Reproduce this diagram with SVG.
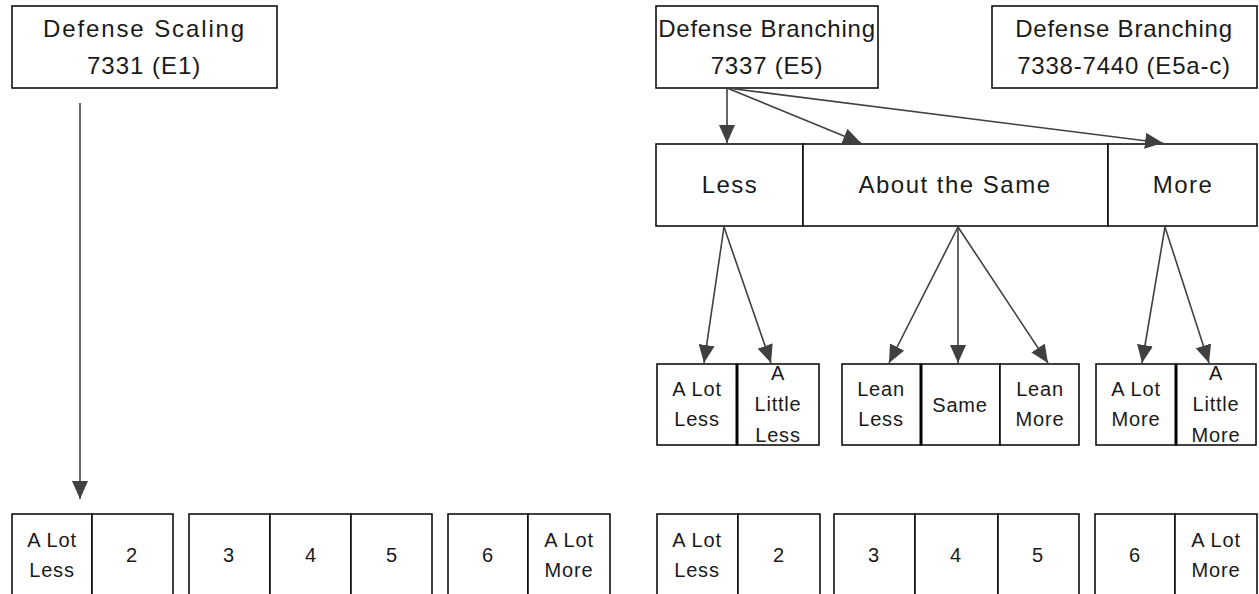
<svg xmlns="http://www.w3.org/2000/svg" width="1259" height="594" viewBox="0 0 1259 594">
<style>
.box{fill:#fff;stroke:#000;stroke-width:1.5}
.thick{stroke:#000;stroke-width:3}
.t{font-family:"Liberation Sans",Arial,sans-serif;fill:#1a1a1a;text-anchor:middle}
.big{font-size:24px;letter-spacing:0.8px}
.mid{font-size:24px;letter-spacing:1.5px}
.sm{font-size:20px;letter-spacing:0.8px}
.c{stroke:#404040;stroke-width:1.6;fill:none;marker-end:url(#ah)}
</style>
<defs>
<marker id="ah" markerUnits="userSpaceOnUse" markerWidth="18" markerHeight="16" refX="18" refY="8" orient="auto">
<path d="M0,0 L18,8 L0,16 z" fill="#404040"/>
</marker>
</defs>
<rect width="1259" height="594" fill="#fff"/>

<g id="e1">
<rect class="box" x="12" y="6" width="265" height="82"/>
<text class="t big" x="144" y="37" textLength="202" lengthAdjust="spacing">Defense Scaling</text>
<text class="t big" x="144" y="74" textLength="114" lengthAdjust="spacing">7331 (E1)</text>
</g>
<g id="e5">
<rect class="box" x="656" y="6" width="222" height="82"/>
<text class="t big" x="767" y="37">Defense Branching</text>
<text class="t big" x="767" y="74">7337 (E5)</text>
</g>
<g id="e5ac">
<rect class="box" x="992" y="6" width="265" height="82"/>
<text class="t big" x="1124" y="37">Defense Branching</text>
<text class="t big" x="1124" y="74">7338-7440 (E5a-c)</text>
</g>

<g id="less">
<rect class="box" x="656" y="144" width="147" height="82"/>
<text class="t mid" x="730" y="193">Less</text>
</g>
<g id="same">
<rect class="box" x="803" y="144" width="305" height="82"/>
<text class="t mid" x="955" y="193">About the Same</text>
</g>
<g id="more">
<rect class="box" x="1108" y="144" width="149" height="82"/>
<text class="t mid" x="1183" y="193">More</text>
</g>

<g id="alotless">
<rect class="box" x="657" y="364" width="80" height="81"/>
<text class="t sm" x="697" y="396">A Lot</text>
<text class="t sm" x="697" y="426">Less</text>
</g>
<g id="alittleless">
<rect class="box" x="737" y="364" width="82" height="81"/>
<text class="t sm" x="778" y="380">A</text>
<text class="t sm" x="778" y="411">Little</text>
<text class="t sm" x="778" y="442">Less</text>
</g>
<g id="leanless">
<rect class="box" x="842" y="364" width="79" height="81"/>
<text class="t sm" x="881" y="396">Lean</text>
<text class="t sm" x="881" y="426">Less</text>
</g>
<g id="samebox">
<rect class="box" x="921" y="364" width="79" height="81"/>
<text class="t sm" x="960" y="412">Same</text>
</g>
<g id="leanmore">
<rect class="box" x="1000" y="364" width="79" height="81"/>
<text class="t sm" x="1040" y="396">Lean</text>
<text class="t sm" x="1040" y="426">More</text>
</g>
<g id="alotmore">
<rect class="box" x="1096" y="364" width="80" height="81"/>
<text class="t sm" x="1136" y="396">A Lot</text>
<text class="t sm" x="1136" y="426">More</text>
</g>
<g id="alittlemore">
<rect class="box" x="1176" y="364" width="80" height="81"/>
<text class="t sm" x="1216" y="380">A</text>
<text class="t sm" x="1216" y="411">Little</text>
<text class="t sm" x="1216" y="442">More</text>
</g>
<line class="thick" x1="737" y1="364" x2="737" y2="445"/>
<line class="thick" x1="921" y1="364" x2="921" y2="445"/>
<line class="thick" x1="1176" y1="364" x2="1176" y2="445"/>

<g id="s1">
<rect class="box" x="12" y="514" width="80" height="84"/>
<text class="t sm" x="52" y="547">A Lot</text>
<text class="t sm" x="52" y="577">Less</text>
</g>
<g id="s2">
<rect class="box" x="92" y="514" width="81" height="84"/>
<text class="t sm" x="132" y="562">2</text>
</g>
<g id="s3">
<rect class="box" x="189" y="514" width="81" height="84"/>
<text class="t sm" x="229" y="562">3</text>
</g>
<g id="s4">
<rect class="box" x="270" y="514" width="81" height="84"/>
<text class="t sm" x="311" y="562">4</text>
</g>
<g id="s5">
<rect class="box" x="351" y="514" width="81" height="84"/>
<text class="t sm" x="392" y="562">5</text>
</g>
<g id="s6">
<rect class="box" x="448" y="514" width="80" height="84"/>
<text class="t sm" x="488" y="562">6</text>
</g>
<g id="s7">
<rect class="box" x="528" y="514" width="82" height="84"/>
<text class="t sm" x="569" y="547">A Lot</text>
<text class="t sm" x="569" y="577">More</text>
</g>

<g id="b1">
<rect class="box" x="657" y="514" width="81" height="84"/>
<text class="t sm" x="697" y="547">A Lot</text>
<text class="t sm" x="697" y="577">Less</text>
</g>
<g id="b2">
<rect class="box" x="738" y="514" width="82" height="84"/>
<text class="t sm" x="779" y="562">2</text>
</g>
<g id="b3">
<rect class="box" x="834" y="514" width="81" height="84"/>
<text class="t sm" x="874" y="562">3</text>
</g>
<g id="b4">
<rect class="box" x="915" y="514" width="83" height="84"/>
<text class="t sm" x="956" y="562">4</text>
</g>
<g id="b5">
<rect class="box" x="998" y="514" width="81" height="84"/>
<text class="t sm" x="1038" y="562">5</text>
</g>
<g id="b6">
<rect class="box" x="1095" y="514" width="80" height="84"/>
<text class="t sm" x="1135" y="562">6</text>
</g>
<g id="b7">
<rect class="box" x="1175" y="514" width="82" height="84"/>
<text class="t sm" x="1216" y="547">A Lot</text>
<text class="t sm" x="1216" y="577">More</text>
</g>

<g id="connectors">
<line class="c" x1="80" y1="103" x2="80" y2="499"/>
<line class="c" x1="727" y1="88" x2="727" y2="143"/>
<line class="c" x1="727" y1="88" x2="861" y2="143"/>
<line class="c" x1="727" y1="88" x2="1163" y2="143"/>
<line class="c" x1="724" y1="227" x2="704" y2="363"/>
<line class="c" x1="724" y1="227" x2="771" y2="363"/>
<line class="c" x1="958" y1="227" x2="889" y2="363"/>
<line class="c" x1="958" y1="227" x2="958" y2="363"/>
<line class="c" x1="958" y1="227" x2="1048" y2="363"/>
<line class="c" x1="1165" y1="227" x2="1142" y2="363"/>
<line class="c" x1="1165" y1="227" x2="1209" y2="363"/>
</g>
</svg>
